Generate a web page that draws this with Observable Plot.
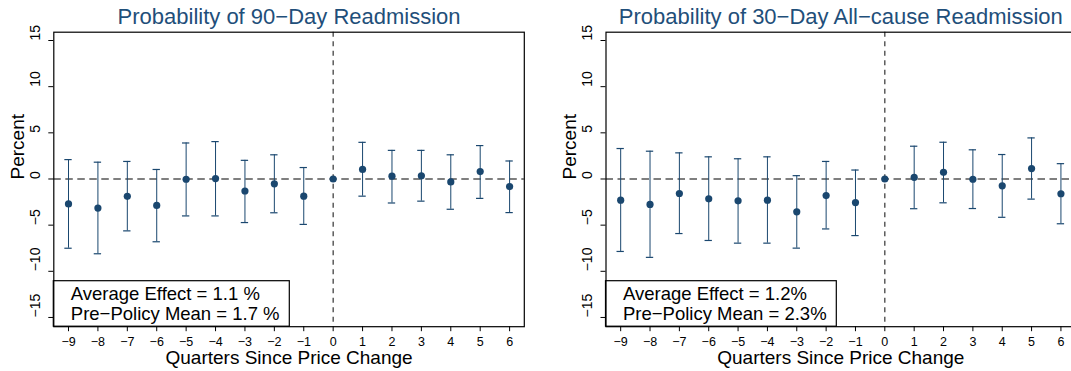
<!DOCTYPE html>
<html><head><meta charset="utf-8">
<script src="https://cdn.jsdelivr.net/npm/d3@7"></script>
<script src="https://cdn.jsdelivr.net/npm/@observablehq/plot@0.6"></script>
<style>
body{margin:0;background:#fff;}
#wrap{display:flex;width:1071px;height:371px;overflow:hidden;}
#left{width:540px;flex:none;overflow:hidden;}
#right{width:531px;flex:none;overflow:hidden;}
svg{display:block;max-width:none !important;}
</style></head><body><div id="wrap"><div id="left"></div><div id="right"></div></div>
<script>
// ---- data ----
const quarters = [-9, -8, -7, -6, -5, -4, -3, -2, -1, 0, 1, 2, 3, 4, 5, 6];

const title90 = "Probability of 90\u2212Day Readmission";
const est90 = [-2.7, -3.15, -1.88, -2.86, -0.03, 0.05, -1.3, -0.52, -1.86, 0, 1.04, 0.3, 0.35, -0.32, 0.8, -0.82];
const hi90  = [2.1, 1.82, 1.9, 1.03, 3.9, 4.05, 2.02, 2.62, 1.24, null, 3.97, 3.1, 3.1, 2.62, 3.62, 1.95];
const lo90  = [-7.5, -8.1, -5.62, -6.8, -4.0, -4.0, -4.72, -3.66, -4.92, null, -1.86, -2.6, -2.4, -3.28, -2.1, -3.64];
const legend90 = ["Average Effect = 1.1 %", "Pre\u2212Policy Mean = 1.7 %"];

const title30 = "Probability of 30\u2212Day All\u2212cause Readmission";
const est30 = [-2.3, -2.76, -1.57, -2.15, -2.37, -2.3, -3.56, -1.8, -2.55, 0, 0.18, 0.72, -0.03, -0.74, 1.13, -1.6];
const hi30  = [3.3, 3.01, 2.83, 2.4, 2.19, 2.4, 0.36, 1.9, 0.97, null, 3.55, 3.98, 3.16, 2.65, 4.45, 1.66];
const lo30  = [-7.85, -8.49, -5.91, -6.66, -6.95, -6.95, -7.49, -5.41, -6.13, null, -3.22, -2.58, -3.2, -4.15, -2.18, -4.85];
const legend30 = ["Average Effect = 1.2%", "Pre\u2212Policy Mean = 2.3%"];

const xTicks = quarters;
const yTicks = [-15, -10, -5, 0, 5, 10, 15];
const xLabel = "Quarters Since Price Change";
const yLabel = "Percent";

// ---- style ----
const navy = "#1a476f";
const titleColor = "#1f4f7a";
const font = "'Liberation Sans', Arial, Helvetica, sans-serif";
const fmt = d => d < 0 ? "\u2212" + Math.abs(d) : String(d);

function legendBox(w, h) {
  return (index, scales, values, dims) => {
    const r = document.createElementNS("http://www.w3.org/2000/svg", "rect");
    r.setAttribute("x", dims.marginLeft);
    r.setAttribute("y", dims.height - dims.marginBottom - h);
    r.setAttribute("width", w);
    r.setAttribute("height", h);
    r.setAttribute("fill", "white");
    r.setAttribute("stroke", "black");
    r.setAttribute("stroke-width", 1.2);
    return r;
  };
}

function panel({title, est, hi, lo, legend, marginLeft, marginRight, boxWidth}) {
  const rows = quarters.map((q, i) => ({q, est: est[i], hi: hi[i], lo: lo[i]}));
  const ci = rows.filter(d => d.hi != null);
  const cap = 0.125;
  return Plot.plot({
    width: 540, height: 371,
    marginLeft, marginRight, marginTop: 31.7, marginBottom: 44.8,
    x: {domain: [-9.5, 6.5], label: null},
    y: {domain: [-16, 15.9], label: null},
    style: {fontFamily: font, background: "white", color: "black", overflow: "visible"},
    marks: [
      Plot.ruleY([0], {stroke: "#555", strokeWidth: 1.6, strokeDasharray: "7.5,4.5"}),
      Plot.ruleX([0], {stroke: "#333", strokeWidth: 1.2, strokeDasharray: "5,4.5"}),
      Plot.ruleX(ci, {x: "q", y1: "lo", y2: "hi", stroke: navy, strokeWidth: 1}),
      Plot.ruleY(ci, {y: "hi", x1: d => d.q - cap, x2: d => d.q + cap, stroke: navy, strokeWidth: 1.2}),
      Plot.ruleY(ci, {y: "lo", x1: d => d.q - cap, x2: d => d.q + cap, stroke: navy, strokeWidth: 1.2}),
      Plot.dot(rows, {x: "q", y: "est", r: 3.6, fill: navy, stroke: "none"}),
      legendBox(boxWidth, 45.5),
      Plot.text([legend.join("\n")], {text: d => d, frameAnchor: "bottom-left", textAnchor: "start", lineAnchor: "bottom", dx: 17, dy: -6.5, fontSize: 18.5, lineHeight: 1.1, fill: "black"}),
      Plot.frame({stroke: "black", strokeWidth: 1.2}),
      Plot.axisX(xTicks, {tickSize: 5, tickPadding: 5, fontSize: 12.5, tickFormat: fmt, label: null}),
      Plot.axisY(yTicks, {tickSize: 5, tickFormat: () => "", label: null}),
      Plot.text(yTicks, {y: d => d, text: fmt, frameAnchor: "left", dx: -18, rotate: -90, fontSize: 14, fill: "black"}),
      Plot.text([title], {text: d => d, frameAnchor: "top", lineAnchor: "bottom", dy: -8.4, fontSize: 22, fill: titleColor}),
      Plot.text([xLabel], {text: d => d, frameAnchor: "bottom", lineAnchor: "bottom", dy: 37.6, fontSize: 19, fill: "black"}),
      Plot.text([yLabel], {text: d => d, frameAnchor: "left", rotate: -90, dx: -36, fontSize: 19, fill: "black"})
    ]
  });
}

document.getElementById("left").append(panel({
  title: title90, est: est90, hi: hi90, lo: lo90, legend: legend90,
  marginLeft: 53.3, marginRight: 16.2, boxWidth: 236
}));
document.getElementById("right").append(panel({
  title: title30, est: est30, hi: hi30, lo: lo30, legend: legend30,
  marginLeft: 65.5, marginRight: 4.9, boxWidth: 230.8
}));
</script>
</body></html>
